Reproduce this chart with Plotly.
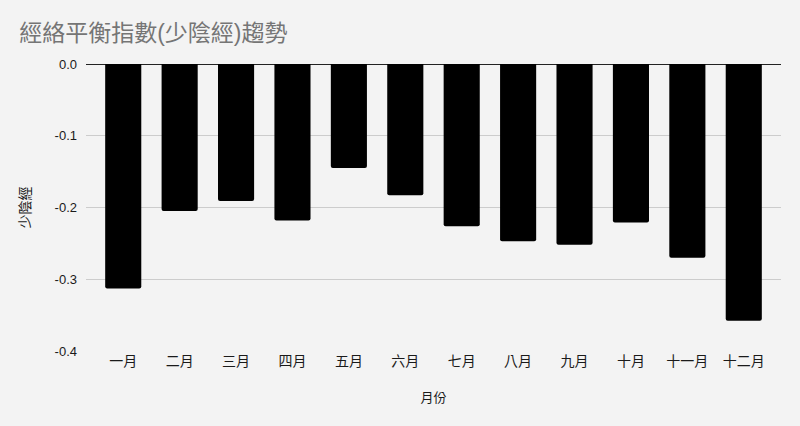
import plotly.graph_objects as go

months = ['一月', '二月', '三月', '四月', '五月', '六月',
          '七月', '八月', '九月', '十月', '十一月', '十二月']
shaoyin = [-0.313, -0.205, -0.191, -0.218, -0.145, -0.183,
           -0.226, -0.247, -0.252, -0.221, -0.270, -0.358]
y_ticks = [0, -0.1, -0.2, -0.3, -0.4]
y_tick_labels = ['0.0', '-0.1', '-0.2', '-0.3', '-0.4']

FONT = 'Liberation Sans, Noto Sans CJK TC, sans-serif'

fig = go.Figure()
fig.add_trace(go.Bar(
    x=months, y=shaoyin,
    marker=dict(color='#000000', cornerradius=2, line=dict(width=0)),
    width=0.64,
))

fig.update_layout(
    width=800, height=426,
    paper_bgcolor='#f3f3f3', plot_bgcolor='#f3f3f3',
    margin=dict(l=86, r=19, t=64, b=75),
    font=dict(family=FONT, size=13, color='#1a1a1a'),
    title=dict(text='經絡平衡指數(少陰經)趨勢', x=0.024, xanchor='left',
               y=0.922, yanchor='middle',
               font=dict(family=FONT, size=23, color='#757575')),
    showlegend=False,
)
fig.update_xaxes(
    title=dict(text='月份', font=dict(size=13, color='#1a1a1a'), standoff=24),
    range=[-0.66, 11.66], showgrid=False, ticks='', showline=False,
    tickfont=dict(size=14, color='#1a1a1a'),
)
fig.update_yaxes(
    title=dict(text='少陰經', font=dict(size=14, color='#1a1a1a'), standoff=20),
    range=[-0.4, 0], tickvals=y_ticks, ticktext=y_tick_labels,
    showgrid=True, gridcolor='#cccccc', gridwidth=1,
    zeroline=True, zerolinecolor='#222222', zerolinewidth=1.2,
    ticks='', ticklabelstandoff=8,
    tickfont=dict(size=13, color='#1a1a1a'),
)

fig.write_html('out.html', config={'displayModeBar': False},
               post_script="document.body.style.margin='0';")
